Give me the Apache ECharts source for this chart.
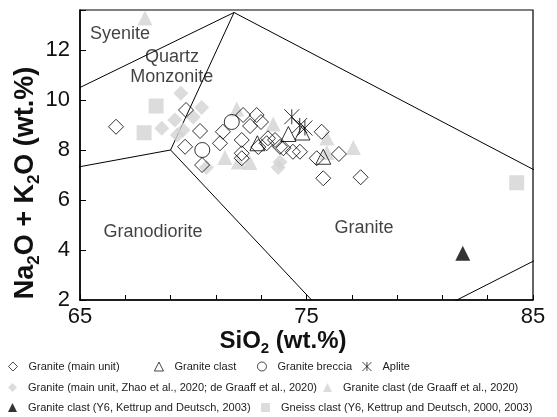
<!DOCTYPE html>
<html>
<head>
<meta charset="utf-8">
<script src="https://cdn.jsdelivr.net/npm/echarts@6/dist/echarts.min.js"></script>
<style>
  html, body { margin: 0; padding: 0; background: #fff; }
  #main { width: 557px; height: 417px; }
</style>
</head>
<body>
<div id="main"></div>
<script>
// values (SiO2 wt.%, Na2O + K2O wt.%)
var graniteMain = [
  [66.59, 8.93], [69.68, 9.60], [70.30, 8.76], [69.64, 8.13], [70.39, 7.40],
  [71.31, 8.73], [71.18, 8.27], [72.20, 9.40], [72.14, 8.40], [72.14, 7.87],
  [72.14, 7.67], [72.80, 9.40], [72.99, 9.12], [72.51, 8.96], [72.87, 8.12],
  [73.24, 8.27], [73.30, 8.47], [73.61, 8.40], [73.83, 8.13], [73.98, 8.07],
  [74.40, 7.93], [74.71, 7.93], [75.67, 8.73], [75.45, 7.67], [76.43, 7.84],
  [75.74, 6.87], [77.39, 6.91]
]
var graniteClast = [[72.83, 8.27], [74.20, 8.64], [74.82, 8.70], [75.74, 7.73]]
var graniteBreccia = [[71.70, 9.12], [70.40, 8.00]]
var aplite = [[74.35, 9.33], [74.70, 8.98], [74.93, 8.88]]
var zhaoGranite = [
  [69.45, 10.27], [70.37, 9.70], [68.61, 8.87], [69.19, 9.20], [69.55, 8.80],
  [70.00, 9.32], [69.30, 8.60], [70.58, 7.30], [73.75, 7.30], [73.83, 7.52]
]
var graaffClast = [
  [67.87, 13.28], [71.92, 9.64], [71.40, 7.70], [71.99, 7.52], [73.53, 9.04],
  [72.50, 7.50], [75.90, 8.48], [77.07, 8.10], [75.90, 7.90]
]
var kettrupGranite = [[81.90, 3.87]]
var kettrupGneiss = [[68.36, 9.76], [67.83, 8.69], [84.28, 6.69]]

// field boundaries (clipped by the grid)
var boundaries = [
  [[65, 10.5], [71.8, 13.5]],
  [[71.8, 13.5], [85.9, 6.8]],
  [[71.8, 13.5], [69, 8]],
  [[63, 7], [69, 8]],
  [[69, 8], [77.3, 0]],
  [[77.3, 0], [87.5, 4.7]]
]
var fieldLabels = [
  [66.77, 12.64, 'Syenite'],
  [69.06, 11.72, 'Quartz'],
  [69.05, 10.92, 'Monzonite'],
  [68.22, 4.72, 'Granodiorite'],
  [77.54, 4.88, 'Granite']
]

var FONT = 'Arial, "Liberation Sans", sans-serif'
var GRAY = '#d3d3d3'
var asterisk = 'path://M0,0L10,10M10,0L0,10M5,0L5,10'

var names = {
  main: 'Granite (main unit)',
  clast: 'Granite clast',
  breccia: 'Granite breccia',
  aplite: 'Aplite',
  zhao: 'Granite (main unit, Zhao et al., 2020; de Graaff et al., 2020)',
  graaff: 'Granite clast (de Graaff et al., 2020)',
  kgranite: 'Granite clast (Y6, Kettrup and Deutsch, 2003)',
  kgneiss: 'Gneiss clast (Y6, Kettrup and Deutsch, 2000, 2003)'
}

var series = []
boundaries.forEach(function (b) {
  series.push({
    type: 'line', data: b, symbol: 'none', silent: true, z: 1,
    lineStyle: { color: '#000', width: 1 }, clip: true
  })
})

function openStyle() {
  return { color: 'rgba(0,0,0,0)', borderColor: '#000', borderWidth: 1 }
}
series.push({ name: names.kgneiss, type: 'scatter', data: kettrupGneiss, symbol: 'rect', symbolSize: 15, itemStyle: { color: GRAY } })
series.push({ name: names.zhao, type: 'scatter', data: zhaoGranite, symbol: 'diamond', symbolSize: 15, itemStyle: { color: GRAY } })
series.push({ name: names.graaff, type: 'scatter', data: graaffClast, symbol: 'triangle', symbolSize: 15, itemStyle: { color: GRAY } })
series.push({ name: names.kgranite, type: 'scatter', data: kettrupGranite, symbol: 'triangle', symbolSize: 15, itemStyle: { color: '#000' } })
series.push({ name: names.main, type: 'scatter', data: graniteMain, symbol: 'diamond', symbolSize: 15, itemStyle: openStyle() })
series.push({ name: names.clast, type: 'scatter', data: graniteClast, symbol: 'triangle', symbolSize: 15, itemStyle: openStyle() })
series.push({ name: names.breccia, type: 'scatter', data: graniteBreccia, symbol: 'circle', symbolSize: 15, itemStyle: openStyle() })
series.push({ name: names.aplite, type: 'scatter', data: aplite, symbol: asterisk, symbolSize: 15, itemStyle: openStyle() })
series.push({
  type: 'scatter', data: fieldLabels, symbolSize: 0, silent: true, z: 5,
  label: {
    show: true, position: 'inside', formatter: function (p) { return p.data[2] },
    fontSize: 18, color: '#111', fontFamily: FONT
  }
})

function legendItem(name, left, top, open) {
  var l = {
    data: [name], left: left, top: top, padding: 0, orient: 'horizontal',
    itemWidth: 9, itemHeight: 9, selectedMode: false,
    textStyle: { fontSize: 11, color: '#222', fontFamily: FONT, padding: [0, 0, 0, 6] }
  }
  if (open) l.itemStyle = { borderWidth: 0.9 }
  return l
}

var richA = { fontSize: 24, fontWeight: 'bold', lineHeight: 30, fontFamily: FONT, fill: '#111' }
var richS = { fontSize: 15, fontWeight: 'bold', lineHeight: 15, verticalAlign: 'bottom', fontFamily: FONT, fill: '#111' }
var richAy = { fontSize: 27, fontWeight: 'bold', lineHeight: 33, fontFamily: FONT, fill: '#111' }
var richSy = { fontSize: 17, fontWeight: 'bold', lineHeight: 17, verticalAlign: 'bottom', fontFamily: FONT, fill: '#111' }

var option = {
  animation: false,
  backgroundColor: '#fff',
  grid: { left: 80, right: 24, top: 10, bottom: 117, show: true, borderColor: '#000', borderWidth: 1.2 },
  xAxis: {
    type: 'value', min: 65, max: 85, interval: 2,
    axisLine: { lineStyle: { color: '#000', width: 1.5 } },
    axisTick: { inside: true, length: 5, lineStyle: { color: '#000' } },
    axisLabel: {
      formatter: function (v) { return (v - 65) % 10 === 0 ? String(v) : '' },
      fontSize: 22, color: '#111', margin: 6, fontFamily: FONT
    },
    splitLine: { show: false }
  },
  yAxis: {
    type: 'value', min: 2, max: 13.6, interval: 2,
    axisLine: { show: true, lineStyle: { color: '#000', width: 1.5 } },
    axisTick: { inside: true, length: 6, lineStyle: { color: '#000' } },
    axisLabel: {
      formatter: function (v) { return (v % 2 === 0 && v <= 12) ? String(v) : '' },
      fontSize: 22, color: '#111', margin: 10, fontFamily: FONT
    },
    splitLine: { show: false }
  },
  legend: [
    legendItem(names.main, 8, 361, true),
    legendItem(names.clast, 154, 361, true),
    legendItem(names.breccia, 257, 361, true),
    legendItem(names.aplite, 362, 361, true),
    legendItem(names.zhao, 8, 382),
    legendItem(names.graaff, 323, 382),
    legendItem(names.kgranite, 8, 402),
    legendItem(names.kgneiss, 261, 402)
  ],
  graphic: [
    {
      type: 'text', x: 283, y: 341, z: 10,
      style: {
        text: '{a|SiO}{s|2}{a| (wt.%)}', rich: { a: richA, s: richS },
        align: 'center', verticalAlign: 'middle'
      }
    },
    {
      type: 'text', x: 26, y: 183, rotation: Math.PI / 2, z: 10,
      style: {
        text: '{a|Na}{s|2}{a|O + K}{s|2}{a|O (wt.%)}', rich: { a: richAy, s: richSy },
        align: 'center', verticalAlign: 'middle'
      }
    }
  ],
  series: series
}

var myChart = echarts.init(document.getElementById('main'))
myChart.setOption(option)
</script>
</body>
</html>
